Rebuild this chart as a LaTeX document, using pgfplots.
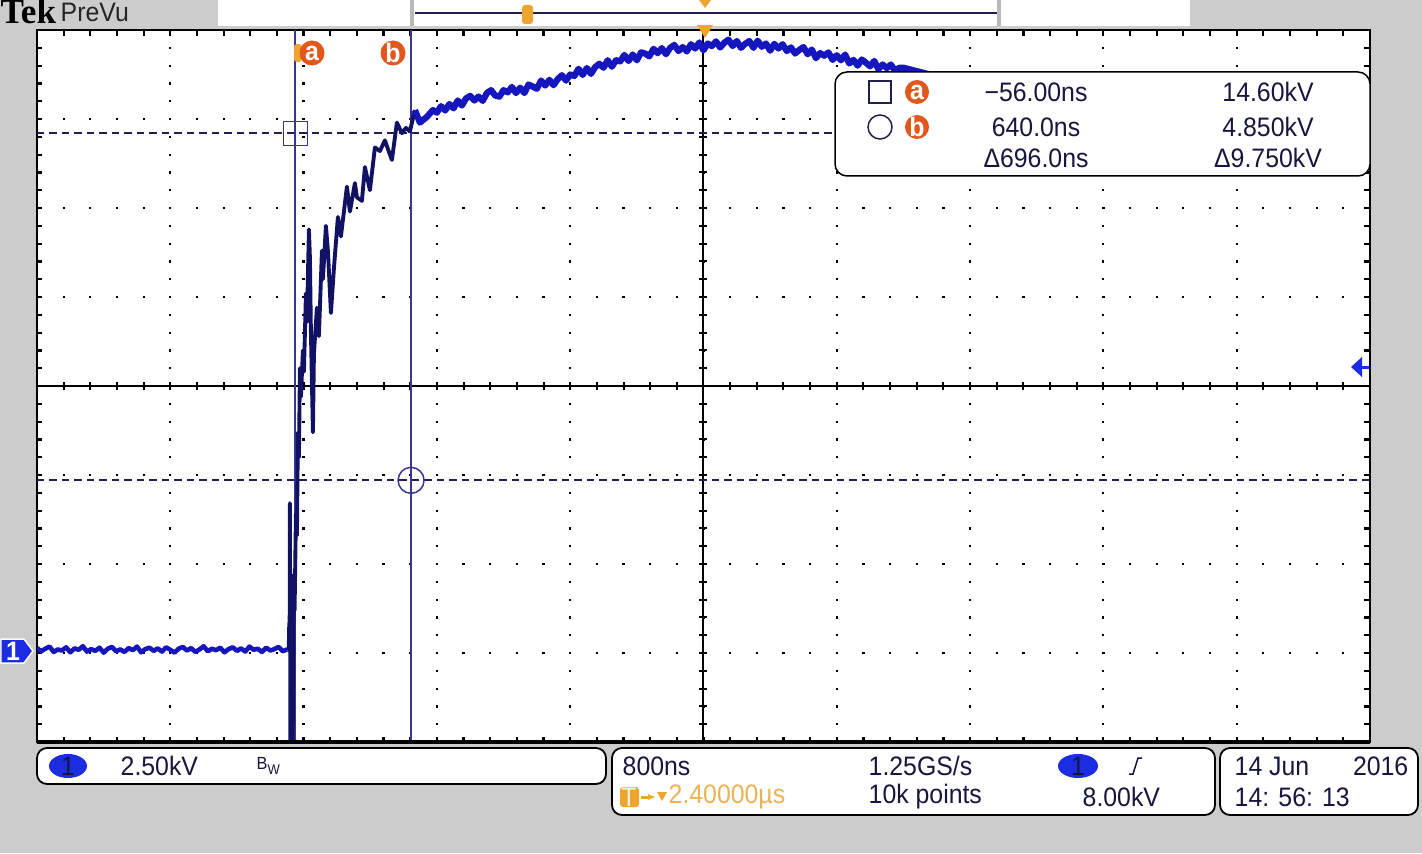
\documentclass[border=0pt]{standalone}
\usepackage{pgfplots}
\pgfplotsset{compat=1.18}
\usepackage{fontspec}
\setmainfont[FakeStretch=0.93]{Liberation Sans}
\newfontfamily\tekfont{Liberation Serif}
\usetikzlibrary{arrows.meta}

\definecolor{bggray}{RGB}{204,204,204}
\definecolor{trace}{RGB}{22,22,190}
\definecolor{tracedk}{RGB}{18,18,100}
\definecolor{curline}{RGB}{55,55,145}
\definecolor{curdash}{RGB}{32,32,78}
\definecolor{curlab}{RGB}{226,88,28}
\definecolor{trig}{RGB}{238,165,45}
\definecolor{trigtext}{RGB}{236,178,85}
\definecolor{chblue}{RGB}{28,45,225}
\definecolor{txt}{RGB}{22,22,62}
\definecolor{sep}{RGB}{185,185,185}

\newcommand\scp{\fontsize{7.6pt}{8pt}\selectfont}

\begin{document}
\begin{tikzpicture}
% screen background
\fill[bggray] (0,0) rectangle (142.2mm,85.3mm);

\begin{axis}[
    at={(3.7mm,11.1mm)}, anchor=south west,
    scale only axis,
    width=133.3mm, height=71.2mm,
    xmin=-1.6, xmax=6.4, ymin=-2.5, ymax=17.5,
    xtick={-1.6,-0.8,0,0.8,1.6,2.4,3.2,4,4.8,5.6,6.4},
    ytick={-2.5,0,2.5,5,7.5,10,12.5,15,17.5},
    minor x tick num=4, minor y tick num=4,
    xticklabels={}, yticklabels={},
    tick align=inside, tick pos=both,
    major tick length=0.55mm, minor tick length=0.55mm,
    tick style={black, line width=0.22mm},
    grid=major,
    x grid style={black, line width=0.22mm, dash pattern=on 0.22mm off 1.56mm, dash phase=0.11mm},
    y grid style={black, line width=0.22mm, dash pattern=on 0.22mm off 2.446mm, dash phase=0.11mm},
    axis line style={black, line width=0.15mm},
    axis background/.style={fill=white},
]
% centre crosshair with its ticks
\draw[black, line width=0.2mm] (axis cs:-1.6,7.5) -- (axis cs:6.4,7.5);
\draw[black, line width=0.2mm] (axis cs:2.4,-2.5) -- (axis cs:2.4,17.5);
\pgfplotsinvokeforeach{0,...,50}{
  \draw[black, line width=0.2mm] (axis cs:{-1.6+0.16*#1},7.38) -- (axis cs:{-1.6+0.16*#1},7.62);
}
\pgfplotsinvokeforeach{0,...,40}{
  \draw[black, line width=0.2mm] (axis cs:2.376,{-2.5+0.5*#1}) -- (axis cs:2.424,{-2.5+0.5*#1});
}
% cursors
\draw[curdash, line width=0.22mm, dash pattern=on 0.75mm off 0.5mm] (axis cs:-1.6,14.6) -- (axis cs:6.4,14.6);
\draw[curdash, line width=0.22mm, dash pattern=on 0.75mm off 0.5mm] (axis cs:-1.6,4.85) -- (axis cs:6.4,4.85);
\draw[curline, line width=0.16mm] (axis cs:-0.05,-2.5) -- (axis cs:-0.05,17.5);
\draw[curline, line width=0.16mm] (axis cs:0.645,-2.5) -- (axis cs:0.645,17.5);

% channel 1 trace (us, kV): flat part before the pulse
\addplot[trace, line width=1.3pt, line join=round] coordinates {
(-1.600,0.14)(-1.575,0.05)(-1.550,0.12)(-1.525,0.18)(-1.500,0.03)(-1.475,0.10)(-1.450,0.07)(-1.425,0.16)
(-1.400,0.02)(-1.375,0.13)(-1.350,0.09)(-1.325,0.19)(-1.300,0.04)(-1.275,0.11)(-1.250,0.06)(-1.225,0.15)
(-1.200,0.01)(-1.175,0.12)(-1.150,0.17)(-1.125,0.05)(-1.100,0.10)(-1.075,0.03)(-1.050,0.14)(-1.025,0.08)
(-1.000,0.18)(-0.975,0.02)(-0.950,0.11)(-0.925,0.15)(-0.900,0.06)(-0.875,0.13)(-0.850,0.04)(-0.825,0.16)
(-0.800,0.09)(-0.775,0.01)(-0.750,0.12)(-0.725,0.17)(-0.700,0.07)(-0.675,0.14)(-0.650,0.03)(-0.625,0.10)
(-0.600,0.19)(-0.575,0.05)(-0.550,0.12)(-0.525,0.08)(-0.500,0.15)(-0.475,0.02)(-0.450,0.11)(-0.425,0.16)
(-0.400,0.06)(-0.375,0.13)(-0.350,0.04)(-0.325,0.18)(-0.300,0.09)(-0.275,0.12)(-0.250,0.03)(-0.225,0.15)
(-0.200,0.07)(-0.175,0.11)(-0.150,0.17)(-0.125,0.05)(-0.100,0.10)(-0.095,0.08)
};
% steep rise with ringing
\addplot[tracedk, line width=1.1pt, line join=round] coordinates {
(-0.095,0.08)(-0.089,0.11)(-0.086,0.85)(-0.084,0.04)(-0.082,4.21)(-0.079,-2.8)(-0.066,-2.8)
(-0.058,2.2)(-0.054,1.2)(-0.046,3.9)(-0.040,3.3)(-0.034,6.2)(-0.028,5.5)(-0.022,8.0)(-0.016,7.2)
(-0.004,8.5)(0.002,7.9)(0.014,10.1)(0.020,9.3)(0.032,11.9)(0.038,11.1)(0.044,9.0)(0.056,6.2)
(0.062,8.4)(0.080,9.7)(0.092,8.9)(0.110,11.3)(0.116,10.5)(0.134,12.0)(0.146,11.3)(0.164,9.55)
(0.182,10.8)(0.206,12.25)(0.224,11.7)(0.260,13.1)(0.278,12.4)(0.308,13.2)(0.320,12.8)(0.350,12.7)
(0.368,13.65)(0.398,13.0)(0.428,14.2)(0.458,14.1)(0.488,14.4)(0.518,14.0)(0.530,13.85)(0.560,14.9)
(0.590,14.6)(0.614,14.75)(0.638,14.65)(0.668,15.25)
};
% slow top of the pulse
\addplot[trace, line width=1.8pt, line join=round] coordinates {
(0.668,15.25)(0.698,14.9)(0.740,15.06)(0.776,15.25)
(0.800,15.18)(0.825,15.36)(0.850,15.24)(0.875,15.42)(0.900,15.30)(0.925,15.52)(0.950,15.38)(0.975,15.58)
(1.000,15.65)(1.025,15.52)(1.050,15.63)(1.075,15.51)(1.100,15.73)(1.125,15.81)(1.150,15.66)(1.175,15.63)
(1.200,15.81)(1.225,15.75)(1.250,15.90)(1.275,15.73)(1.300,15.88)(1.325,15.73)(1.350,15.97)(1.375,15.91)
(1.400,15.85)(1.425,16.08)(1.450,15.94)(1.475,16.10)(1.500,15.95)(1.525,16.12)(1.550,16.23)(1.575,16.08)
(1.600,16.25)(1.625,16.21)(1.650,16.41)(1.675,16.24)(1.700,16.43)(1.725,16.27)(1.750,16.46)(1.775,16.55)
(1.800,16.44)(1.825,16.65)(1.850,16.47)(1.875,16.65)(1.900,16.62)(1.925,16.80)(1.950,16.63)(1.975,16.81)
(2.000,16.65)(2.025,16.87)(2.050,16.84)(2.075,16.76)(2.100,16.97)(2.125,16.85)(2.150,16.99)(2.175,16.82)
(2.200,17.00)(2.225,17.08)(2.250,16.91)(2.275,17.02)(2.300,16.90)(2.325,17.10)(2.350,16.98)(2.375,17.15)
(2.400,16.93)(2.425,17.12)(2.450,17.05)(2.475,17.18)(2.500,17.01)(2.525,17.14)(2.550,17.23)(2.575,17.05)
(2.600,17.19)(2.625,17.00)(2.650,17.11)(2.675,17.19)(2.700,17.00)(2.725,17.20)(2.750,17.03)(2.775,17.12)
(2.800,16.92)(2.825,17.11)(2.850,16.98)(2.875,17.10)(2.900,16.91)(2.925,17.01)(2.950,16.84)(2.975,16.94)
(3.000,17.02)(3.025,16.82)(3.050,16.95)(3.075,16.71)(3.100,16.85)(3.125,16.78)(3.150,16.87)(3.175,16.66)
(3.200,16.79)(3.225,16.65)(3.250,16.81)(3.275,16.56)(3.300,16.66)(3.325,16.50)(3.350,16.67)(3.375,16.58)
(3.400,16.48)(3.425,16.63)(3.450,16.40)(3.475,16.53)(3.500,16.43)(3.525,16.53)(3.550,16.35)(3.575,16.44)
(3.600,16.44)
(3.8,16.2)(4.2,15.95)(4.8,15.5)(5.4,15.0)(6.0,14.55)(6.4,14.25)
};
% cursor markers
\addplot[only marks, mark=square, mark size=1.2mm, mark options={draw=curline, line width=0.15mm}] coordinates {(-0.05,14.6)};
\addplot[only marks, mark=o, mark size=1.3mm, mark options={draw=curline, line width=0.15mm}] coordinates {(0.645,4.85)};
\end{axis}

\begin{scope}[x=0.1mm, y=0.1mm]
% thick lower frame edge
\draw[black, line width=0.45mm] (37,111) -- (1370,111);

% top bar
\fill[white] (218,827) rectangle (1190,853);
\fill[sep] (410,827) rectangle (414,853);
\fill[sep] (997,827) rectangle (1001,853);
\draw[curdash, line width=0.25mm] (415,840) -- (997,840);
\fill[trig, rounded corners=0.3mm] (522,829) rectangle (533,848);
\fill[trig] (699,853) -- (711,853) -- (705,845) -- cycle;
\node[anchor=base west, inner sep=0, font={\tekfont\bfseries\fontsize{10pt}{10pt}\selectfont}] at (0,829) {Tek};
\node[anchor=base west, inner sep=0, font=\scp, text=black!85] at (60,831) {PreVu};

% cursor tags
\fill[trig, rounded corners=0.3mm] (294,791) rectangle (302,809);
\fill[curlab] (312,800) circle[radius=1.25mm];
\node[text=white, font=\scp\bfseries] at (312,800) {a};
\fill[curlab] (393,800) circle[radius=1.25mm];
\node[text=white, font=\scp\bfseries] at (393,800) {b};

% trigger position marker
\fill[trig] (697,828) -- (713,828) -- (705,815) -- cycle;

% channel ground marker
\filldraw[fill=chblue, draw=white, line width=0.15mm] (1,190) -- (24,190) -- (33,202) -- (24,214) -- (1,214) -- cycle;
\node[text=white, font=\scp\bfseries] at (13,202) {1};

% trigger level arrow
\fill[chblue] (1351,486) -- (1362,496) -- (1362,476) -- cycle;
\draw[chblue, line width=0.3mm] (1360,486) -- (1369,486);

% cursor readout box
\filldraw[fill=white, draw=black, line width=0.15mm, rounded corners=1.2mm] (835,677) rectangle (1370,781);
\draw[curdash, line width=0.15mm] (869,750) rectangle (891,772);
\draw[curdash, line width=0.15mm] (880,726) circle[radius=1.2mm];
\fill[curlab] (917,761) circle[radius=1.2mm];
\node[text=white, font=\scp\bfseries] at (917,761) {a};
\fill[curlab] (917,726) circle[radius=1.2mm];
\node[text=white, font=\scp\bfseries] at (917,726) {b};
\begin{scope}[every node/.style={text=txt, font=\scp, inner sep=0}]
\node at (1036,761) {−56.00ns};
\node at (1268,761) {14.60kV};
\node at (1036,726) {640.0ns};
\node at (1268,726) {4.850kV};
\node at (1036,695) {Δ696.0ns};
\node at (1268,695) {Δ9.750kV};
\end{scope}

% status bar
\filldraw[fill=white, draw=black, line width=0.18mm, rounded corners=1mm] (37,69) rectangle (606,105);
\filldraw[fill=white, draw=black, line width=0.18mm, rounded corners=1mm] (612,38) rectangle (1215,105);
\filldraw[fill=white, draw=black, line width=0.18mm, rounded corners=1mm] (1220,38) rectangle (1418,105);
\fill[chblue] (68,87) ellipse[x radius=1.9mm, y radius=1.2mm];
\fill[chblue] (1078,87) ellipse[x radius=2.0mm, y radius=1.2mm];
\fill[trig, rounded corners=0.3mm] (620,46) rectangle (639,66);
\draw[trig, -{Latex[length=0.8mm]}, line width=0.3mm] (641,56) -- (656,56);
\fill[trig] (657,61) -- (667,61) -- (662,52) -- cycle;
\draw[txt, line width=0.15mm] (1129,79) -- (1133,79) -- (1138,95) -- (1142,95);
\begin{scope}[every node/.style={text=txt, font=\scp, inner sep=0}]
\node at (68,87) {1};
\node at (1078,87) {1};
\node[anchor=west] at (120,87) {2.50kV};
\node[anchor=west] at (256,87) {\fontsize{5pt}{5pt}\selectfont B\raisebox{-0.5ex}{\fontsize{4pt}{4pt}\selectfont W}};
\node[anchor=west] at (622,87) {800ns};
\node[text=white!85!trig] at (629,56) {T};
\node[anchor=west, text=trigtext] at (668,56) {2.40000µs};
\node[anchor=west] at (868,87) {1.25GS/s};
\node[anchor=west] at (868,56) {10k points};
\node[anchor=west] at (1082,56) {8.00kV};
\node[anchor=west] at (1234,87) {14 Jun};
\node[anchor=east] at (1409,87) {2016};
\node[anchor=west] at (1234,56) {14: 56: 13};
\end{scope}
\end{scope}

\pgfresetboundingbox
\path[use as bounding box] (0,0) rectangle (142.2mm,85.3mm);
\end{tikzpicture}
\end{document}
